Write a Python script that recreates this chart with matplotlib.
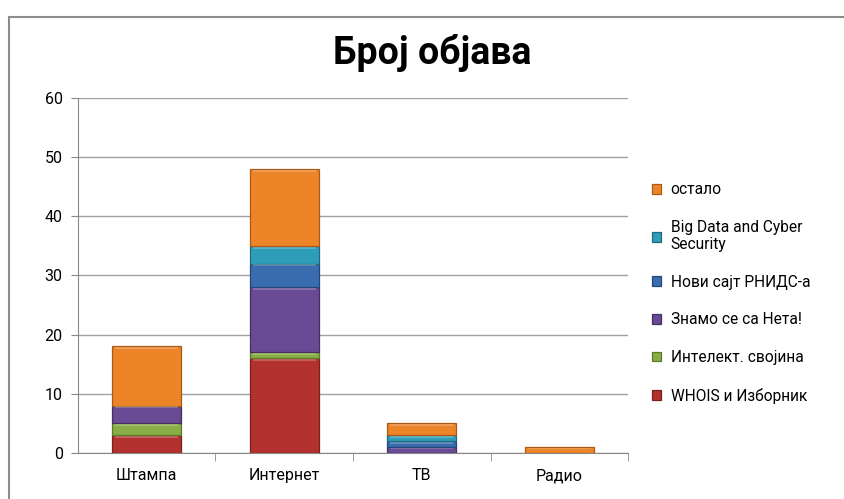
import matplotlib
matplotlib.use("Agg")
import matplotlib.pyplot as plt
from matplotlib.patches import Rectangle
import numpy as np

plt.rcParams["font.family"] = ["Roboto", "DejaVu Sans"]

# ─── DATA ────────────────────────────────────────────────────────────────────
categories = ["Штампа", "Интернет", "ТВ", "Радио"]
series_names = ["WHOIS и Изборник", "Интелект. својина", "Знамо се са Нета!",
                "Нови сајт РНИДС-а", "Big Data and Cyber\nSecurity", "остало"]
whois = [3, 16, 0, 0]
intelekt = [2, 1, 0, 0]
znamo = [3, 11, 1, 0]
novi_sajt = [0, 4, 1, 0]
big_data = [0, 3, 1, 0]
ostalo = [10, 13, 2, 1]
yticks = [0, 10, 20, 30, 40, 50, 60]

colors = ["#B3312E", "#88AE45", "#694A94", "#3A6CB0", "#2E9DB8", "#EE8428"]
edges = ["#7A1F1C", "#5C7A2C", "#45305F", "#24477A", "#1E6B7E", "#A85A18"]

# ─── PLOT ────────────────────────────────────────────────────────────────────
fig = plt.figure(figsize=(8.45, 4.99), dpi=100)
ax = fig.add_axes([0.0923, 0.0922, 0.6509, 0.7114])

x = np.arange(len(categories))
bottom = np.zeros(len(categories))
handles = []
for vals, name, c, ec in zip([whois, intelekt, znamo, novi_sajt, big_data, ostalo],
                             series_names, colors, edges):
    vals = np.array(vals, dtype=float)
    b = ax.bar(x, vals, 0.5, bottom=bottom, color=c, edgecolor=ec, linewidth=0.9,
               label=name, zorder=3)
    handles.append(b)
    # light bevel strip along the top of each segment
    for p in b.patches:
        if p.get_height() > 0:
            h = min(0.35, p.get_height() * 0.3)
            ax.add_patch(Rectangle((p.get_x() + 0.02, p.get_y() + p.get_height() - h - 0.1),
                                   p.get_width() - 0.04, h, color="white",
                                   alpha=0.22, linewidth=0, zorder=4))
    bottom += vals

ax.set_xlim(-0.5, len(categories) - 0.5)
ax.set_ylim(0, 60)
ax.set_yticks(yticks)
ax.tick_params(axis="y", labelsize=11.5, length=5, color="#888888", pad=6)
ax.set_xticks(x)
ax.set_xticklabels(categories, fontsize=11.5)
ax.tick_params(axis="x", length=0, pad=11)
ax.set_xticks(np.arange(len(categories)) + 0.5, minor=True)
ax.tick_params(axis="x", which="minor", length=6, color="#888888")
ax.grid(axis="y", color="#A0A0A0", linewidth=1, zorder=0)
for s in ["top", "right"]:
    ax.spines[s].set_visible(False)
for s in ["left", "bottom"]:
    ax.spines[s].set_color("#888888")

fig.text(0.512, 0.893, "Број објава", ha="center", va="center",
         fontsize=27, fontweight="bold")

ax.legend(handles[::-1], series_names[::-1], loc="center left",
          bbox_to_anchor=(0.755, 0.413), bbox_transform=fig.transFigure,
          frameon=False, fontsize=11.2, handlelength=0.6, handleheight=0.6,
          handletextpad=0.6, labelspacing=1.45)

# chart frame
fig.patches.append(Rectangle((9 / 845, -0.1), 1.2, 1.1 - 17 / 499,
                             transform=fig.transFigure, fill=False,
                             edgecolor="#8C8C8C", linewidth=1.5))

plt.savefig("out.png", dpi=100)
